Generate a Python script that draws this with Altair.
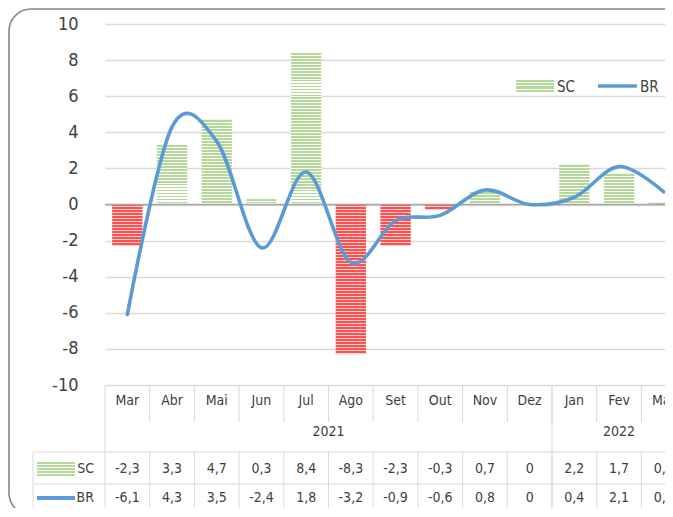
import altair as alt
import pandas as pd

# ---------------- data ----------------
months = ["Mar", "Abr", "Mai", "Jun", "Jul", "Ago", "Set", "Out", "Nov", "Dez", "Jan", "Fev", "Mar"]
years = ["2021"] * 10 + ["2022"] * 3
sc = [-2.3, 3.3, 4.7, 0.3, 8.4, -8.3, -2.3, -0.3, 0.7, 0, 2.2, 1.7, 0.1]
br = [-6.1, 4.3, 3.5, -2.4, 1.8, -3.2, -0.9, -0.6, 0.8, 0, 0.4, 2.1, 0.7]
y_ticks = list(range(-10, 11, 2))
series = ["SC", "BR"]


def fmt(v):
    return "0" if v == 0 else f"{v:.1f}".replace(".", ",")


df = pd.DataFrame({"i": list(range(len(months))), "mes": months, "ano": years,
                   "SC": sc, "BR": br})
df["SC_lbl"] = [fmt(v) for v in sc]
df["BR_lbl"] = [fmt(v) for v in br]
zero_df = pd.DataFrame({"v": [0]})
one_df = pd.DataFrame({"k": [0]})

# ---------------- style ----------------
FONT = "DejaVu Sans Condensed, Roboto, sans-serif"
GREEN, GREEN_GAP = "#b3d898", "#ffffff"
RED, RED_GAP = "#ff5050", "#ffd0d0"
BLUE = "#5b9bd5"
GRID = "#d9d9d9"
TXT = "#404040"
W, H = 560, 361
COL = 44.7
xscale = alt.Scale(domain=[-0.5, -0.5 + W / COL], nice=False, zero=False)
yscale = alt.Scale(domain=[-10, 10], nice=False, zero=False)


def stripes(h_px, color, gap, period=3.0, frac=0.62):
    n = max(1, int(round(h_px / period)))
    stops = []
    for k in range(n):
        a, b, c = k / n, (k + frac) / n, (k + 1) / n
        stops += [alt.GradientStop(offset=a, color=color), alt.GradientStop(offset=b, color=color),
                  alt.GradientStop(offset=b, color=gap), alt.GradientStop(offset=min(c, 1.0), color=gap)]
    return alt.Gradient(gradient="linear", stops=stops, x1=0, x2=0, y1=0, y2=1)


yaxis = alt.Axis(values=y_ticks, grid=True, gridColor=GRID, gridWidth=1.3, domain=False,
                 ticks=False, labelPadding=27, labelFont=FONT, labelFontSize=18,
                 labelColor=TXT, title=None, labelExpr="datum.value + ''")

axis_layer = alt.Chart(zero_df).mark_rule(opacity=0).encode(
    y=alt.Y("v:Q", scale=yscale, axis=yaxis))

bar_layers = []
for k, v in enumerate(sc):
    if v == 0:
        continue
    h = abs(v) * H / 20
    fill = stripes(h, GREEN, GREEN_GAP) if v > 0 else stripes(h, RED, RED_GAP)
    bar_layers.append(
        alt.Chart(df).transform_filter(alt.datum.i == k)
        .transform_calculate(x0="datum.i - 0.34", x1="datum.i + 0.34")
        .mark_rect(fill=fill)
        .encode(x=alt.X("x0:Q", scale=xscale, axis=None), x2="x1:Q",
                y=alt.Y("SC:Q", scale=yscale, axis=yaxis), y2=alt.datum(0))
    )

zero_rule = alt.Chart(zero_df).mark_rule(color="#a6a6a6", strokeWidth=1.6).encode(
    y=alt.Y("v:Q", scale=yscale, axis=yaxis))

line = alt.Chart(df).mark_line(interpolate="cardinal", color=BLUE, strokeWidth=3.6,
                               strokeCap="round").encode(
    x=alt.X("i:Q", scale=xscale, axis=None),
    y=alt.Y("BR:Q", scale=yscale, axis=yaxis))

# legend (inside plot, top right)
leg_swatch = alt.Chart(one_df).mark_rect(fill=stripes(13, GREEN, GREEN_GAP)).encode(
    x=alt.value(411), x2=alt.value(449), y=alt.value(56), y2=alt.value(69))
leg_line = alt.Chart(one_df).mark_rule(color=BLUE, strokeWidth=3.6).encode(
    x=alt.value(493), x2=alt.value(532), y=alt.value(62))
leg_sc = alt.Chart(one_df).mark_text(font=FONT, fontSize=15, color=TXT, align="left",
                                     baseline="middle").encode(
    x=alt.value(452), y=alt.value(63), text=alt.value(series[0]))
leg_br = alt.Chart(one_df).mark_text(font=FONT, fontSize=15, color=TXT, align="left",
                                     baseline="middle").encode(
    x=alt.value(535), y=alt.value(63), text=alt.value(series[1]))


def row_text(field, ypx):
    return alt.Chart(df).mark_text(font=FONT, fontSize=14, color=TXT, baseline="middle").encode(
        x=alt.X("i:Q", scale=xscale, axis=None), y=alt.value(ypx), text=f"{field}:N")


t_month = row_text("mes", 377)
t_year = alt.Chart(df).transform_aggregate(xm="mean(i)", groupby=["ano"]).mark_text(
    font=FONT, fontSize=14, color=TXT, baseline="middle").encode(
    x=alt.X("xm:Q", scale=xscale, axis=None), y=alt.value(408), text="ano:N")
t_sc = row_text("SC_lbl", 445)
t_br = row_text("BR_lbl", 474)

v_month = alt.Chart(df).transform_calculate(b="datum.i + 0.5").mark_rule(
    color=GRID, strokeWidth=1).encode(
    x=alt.X("b:Q", scale=xscale, axis=None), y=alt.value(361), y2=alt.value(398))
v_rows = alt.Chart(df).transform_calculate(b="datum.i + 0.5").mark_rule(
    color=GRID, strokeWidth=1).encode(
    x=alt.X("b:Q", scale=xscale, axis=None), y=alt.value(428), y2=alt.value(492))
v_year = alt.Chart(df).transform_aggregate(first="min(i)", groupby=["ano"]).transform_calculate(
    b="datum.first - 0.5").mark_rule(color=GRID, strokeWidth=1).encode(
    x=alt.X("b:Q", scale=xscale, axis=None), y=alt.value(361), y2=alt.value(492))
h_row1 = alt.Chart(one_df).mark_rule(color=GRID, strokeWidth=1).encode(
    x=alt.value(-72), x2=alt.value(W + 10), y=alt.value(428))
h_row2 = alt.Chart(one_df).mark_rule(color=GRID, strokeWidth=1).encode(
    x=alt.value(-72), x2=alt.value(W + 10), y=alt.value(460))
v_left = alt.Chart(one_df).mark_rule(color=GRID, strokeWidth=1).encode(
    x=alt.value(-72), y=alt.value(428), y2=alt.value(492))

hdr_swatch = alt.Chart(one_df).mark_rect(fill=stripes(15, GREEN, GREEN_GAP)).encode(
    x=alt.value(-68), x2=alt.value(-30), y=alt.value(438), y2=alt.value(453))
hdr_line = alt.Chart(one_df).mark_rule(color=BLUE, strokeWidth=4).encode(
    x=alt.value(-68), x2=alt.value(-30), y=alt.value(474))
hdr_sc = alt.Chart(one_df).mark_text(font=FONT, fontSize=14, color=TXT, align="right",
                                     baseline="middle").encode(
    x=alt.value(-11), y=alt.value(445), text=alt.value(series[0]))
hdr_br = alt.Chart(one_df).mark_text(font=FONT, fontSize=14, color=TXT, align="right",
                                     baseline="middle").encode(
    x=alt.value(-11), y=alt.value(474), text=alt.value(series[1]))

frame = alt.Chart(one_df).mark_rect(fillOpacity=0, stroke="#858585", strokeWidth=1.6,
                                    cornerRadiusTopLeft=22, cornerRadiusBottomLeft=22).encode(
    x=alt.value(-96), x2=alt.value(W + 100), y=alt.value(-15), y2=alt.value(491))

chart = alt.layer(
    axis_layer, *bar_layers, zero_rule, line,
    leg_swatch, leg_line, leg_sc, leg_br,
    v_month, v_rows, v_year, h_row1, h_row2, v_left,
    t_month, t_year, t_sc, t_br,
    hdr_swatch, hdr_line, hdr_sc, hdr_br, frame,
).properties(
    width=W, height=H,
    autosize=alt.AutoSizeParams(type="none"),
    padding={"left": 97, "top": 16, "right": 0, "bottom": 123},
    background="white",
).configure_view(strokeWidth=0)

chart.save("out.html", embed_options={"renderer": "svg", "actions": False})
